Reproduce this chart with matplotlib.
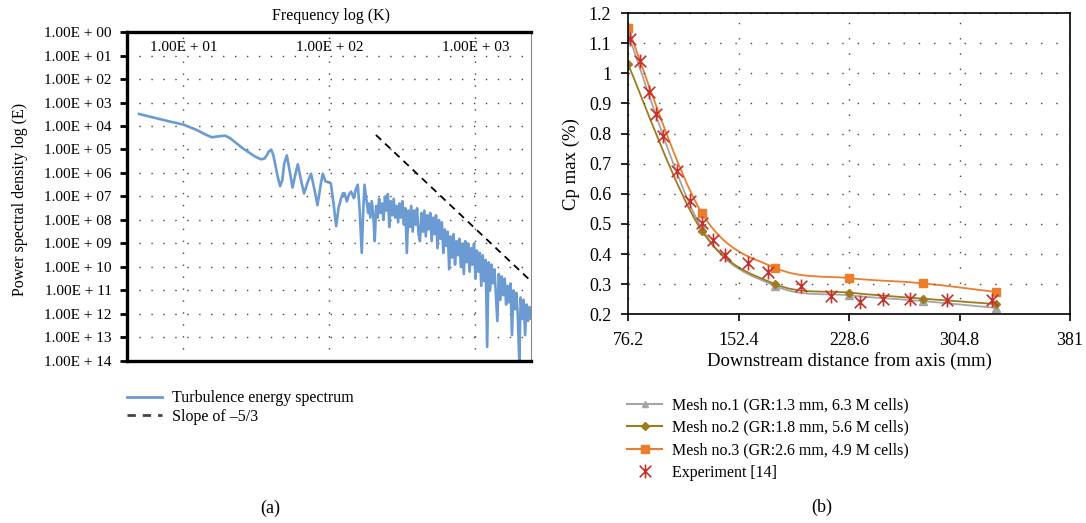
import numpy as np
import matplotlib
matplotlib.use("Agg")
import matplotlib.pyplot as plt
from matplotlib.path import Path
from matplotlib.patches import PathPatch
from matplotlib.lines import Line2D

plt.rcParams['font.family'] = ['Liberation Serif', 'DejaVu Serif']

# ---- (a) turbulence spectrum: log10 of frequency K and log exponent of E ----
spec_log_k = [
    0.696, 0.80, 0.90, 1.00, 1.091, 1.15, 1.194, 1.24, 1.285, 1.32, 1.354, 1.40,
    1.445, 1.49, 1.532, 1.555, 1.571, 1.585, 1.600, 1.614, 1.628, 1.645, 1.662,
    1.677, 1.690, 1.708, 1.727, 1.747, 1.765, 1.783, 1.805, 1.826, 1.850, 1.874,
    1.897, 1.918, 1.940, 1.954, 1.973, 1.995, 2.010, 2.030, 2.046, 2.062, 2.080,
    2.092, 2.103, 2.119, 2.135, 2.148, 2.167, 2.180, 2.194, 2.207, 2.221, 2.232,
    2.240, 2.256, 2.265,
    2.27, 2.28, 2.29, 2.30, 2.31, 2.32, 2.33, 2.34, 2.35, 2.36, 2.37, 2.38, 2.39,
    2.40, 2.41, 2.42, 2.43, 2.44, 2.45, 2.46, 2.47, 2.48, 2.49, 2.50, 2.51, 2.52,
    2.53, 2.54, 2.55, 2.56, 2.57, 2.58, 2.59, 2.60, 2.61, 2.62, 2.63, 2.64, 2.65,
    2.66, 2.67, 2.68, 2.69, 2.70, 2.71, 2.72, 2.73, 2.74, 2.75, 2.76, 2.77, 2.78,
    2.79, 2.80, 2.81, 2.82, 2.83, 2.84, 2.85, 2.86, 2.87, 2.88, 2.89, 2.90, 2.91,
    2.92, 2.93, 2.94, 2.95, 2.96, 2.97, 2.98, 2.99, 3.00, 3.01, 3.02, 3.03, 3.04,
    3.05, 3.06, 3.07, 3.08, 3.09, 3.10, 3.11, 3.12, 3.13, 3.14, 3.15, 3.16, 3.17,
    3.18, 3.19, 3.20, 3.21, 3.22, 3.23, 3.24, 3.25, 3.26, 3.27, 3.28, 3.29, 3.30,
    3.31, 3.32, 3.33, 3.34, 3.35, 3.36, 3.37, 3.38,
]
spec_log_e = [
    3.49, 3.65, 3.80, 3.94, 4.17, 4.36, 4.48, 4.44, 4.41, 4.52, 4.69, 4.92,
    5.11, 5.30, 5.42, 5.38, 5.25, 5.08, 5.01, 5.20, 5.61, 6.15, 6.56,
    6.30, 5.60, 5.25, 5.90, 6.62, 6.10, 5.63, 6.30, 6.87, 6.40, 6.03,
    6.70, 7.37, 6.50, 6.03, 6.36, 6.40, 6.45, 7.40, 8.26, 7.50, 7.07,
    6.86, 6.86, 7.21, 6.90, 6.79, 7.07, 6.70, 6.50, 7.60, 9.40, 7.50,
    6.50, 7.29, 7.70,
    7.3, 7.9, 7.2, 7.8, 8.9, 7.4, 7.9, 7.1, 7.7, 7.3, 8.0, 7.0, 7.6,
    6.9, 8.3, 7.2, 7.8, 7.1, 7.9, 7.4, 8.1, 7.3, 7.9, 7.2, 8.2, 7.5,
    9.4, 7.6, 8.3, 7.4, 8.5, 7.6, 8.2, 7.5, 8.6, 8.9, 7.7, 8.5, 7.6,
    8.7, 7.8, 8.4, 7.7, 8.9, 7.9, 8.6, 7.8, 9.2, 8.0, 8.8, 8.1, 9.4,
    8.4, 9.1, 8.5, 10.1, 8.7, 9.6, 8.6, 9.9, 8.9, 9.5, 8.8, 10.0, 9.0,
    10.3, 8.9, 9.8, 9.0, 10.2, 9.2, 9.9, 9.0, 10.5, 9.3, 10.2, 9.4, 10.8,
    9.5, 10.6, 9.7, 13.4, 9.8, 11.0, 9.9, 10.7, 10.1, 11.2, 12.3, 10.3, 11.4,
    10.4, 11.2, 10.5, 11.6, 10.8, 11.5, 10.7, 12.9, 11.0, 11.8, 11.1, 12.1, 14.0,
    11.3, 12.2, 11.4, 12.9, 11.6, 12.3, 11.7, 12.2,
]
slope_log_k = [2.318, 3.38]
slope_log_e = [4.38, 10.60]

psd_ticks = list(range(15))
psd_tick_labels = ["1.00E + 00", "1.00E + 01", "1.00E + 02", "1.00E + 03", "1.00E + 04",
                   "1.00E + 05", "1.00E + 06", "1.00E + 07", "1.00E + 08", "1.00E + 09",
                   "1.00E + 10", "1.00E + 11", "1.00E + 12", "1.00E + 13", "1.00E + 14"]
freq_ticks = [1, 2, 3]
freq_tick_labels = ["1.00E + 01", "1.00E + 02", "1.00E + 03"]

# ---- (b) Cp max vs downstream distance ----
mesh_x = [76.2, 127.0, 177.8, 228.6, 279.4, 330.2]
mesh1_cp = [1.13, 0.485, 0.294, 0.263, 0.244, 0.221]
mesh2_cp = [1.03, 0.478, 0.300, 0.272, 0.252, 0.234]
mesh3_cp = [1.15, 0.537, 0.354, 0.320, 0.303, 0.274]
exp_x = [77.4, 84.3, 90.5, 95.4, 100.4, 109.7, 118.9, 127.0, 135.1, 143.2, 158.9,
         172.8, 195.6, 216.2, 236.4, 251.7, 270.6, 296.5, 327.5]
exp_cp = [1.114, 1.040, 0.938, 0.865, 0.791, 0.677, 0.576, 0.504, 0.446, 0.398, 0.371,
          0.340, 0.294, 0.260, 0.241, 0.251, 0.251, 0.247, 0.248]
dist_ticks = [76.2, 152.4, 228.6, 304.8, 381]
dist_tick_labels = ["76.2", "152.4", "228.6", "304.8", "381"]
cp_ticks = [0.2, 0.3, 0.4, 0.5, 0.6, 0.7, 0.8, 0.9, 1.0, 1.1, 1.2]
cp_tick_labels = ["0.2", "0.3", "0.4", "0.5", "0.6", "0.7", "0.8", "0.9", "1", "1.1", "1.2"]

BLUE = '#6b9bd2'
GRAY = '#a5a5a5'
BROWN = '#a07a1e'
ORANGE = '#ee7d2b'
RED = '#c8312b'


def smooth_path(xs, ys):
    """Excel style smoothed line as cubic Bezier segments through the points"""
    pts = np.column_stack([xs, ys]).astype(float)
    n = len(pts)
    verts = [pts[0]]
    codes = [Path.MOVETO]
    for i in range(n - 1):
        p0 = pts[i - 1] if i > 0 else pts[i]
        p1, p2 = pts[i], pts[i + 1]
        p3 = pts[i + 2] if i + 2 < n else pts[i + 1]
        verts += [p1 + (p2 - p0) / 6, p2 - (p3 - p1) / 6, p2]
        codes += [Path.CURVE4] * 3
    return Path(verts, codes)


star = Path([(-1, -1), (1, 1), (-1, 1), (1, -1), (0, -1.2), (0, 1.2)],
            [Path.MOVETO, Path.LINETO] * 3)

fig = plt.figure(figsize=(10.86, 5.23), dpi=100)

# ---------------- panel (a) ----------------
ax1 = fig.add_axes([0.1169, 0.3098, 0.3720, 0.6290])
ax1.plot(spec_log_k, spec_log_e, color=BLUE, lw=1.9)
ax1.plot(slope_log_k, slope_log_e, color='black', lw=1.3, dashes=(4, 3))
ax1.set_xlim(0.613, 3.38)
ax1.set_ylim(14, 0)
ax1.set_yticks(psd_ticks)
ax1.set_yticklabels(psd_tick_labels, fontsize=11)
ax1.xaxis.tick_top()
ax1.set_xticks(freq_ticks)
ax1.set_xticklabels(freq_tick_labels, fontsize=11)
ax1.tick_params(axis='x', length=0, pad=-16)
ax1.tick_params(axis='y', length=5, width=2, direction='out', pad=6)
ax1.xaxis.set_label_position('top')
ax1.set_xlabel("Frequency log (K)", fontsize=11.5)
ax1.xaxis.set_label_coords(0.505, 1.035)
ax1.set_ylabel("Power spectral density log (E)", fontsize=11.5)
ax1.yaxis.set_label_coords(-0.245, 0.49)
ax1.grid(True, color='#444444', lw=1.0, linestyle=(0, (1, 7.6)))
for side in ['left', 'top', 'bottom']:
    ax1.spines[side].set_linewidth(2.4)
ax1.spines['right'].set_linewidth(0.8)
ax1.spines['right'].set_color('#888888')

fig.legend([Line2D([], [], color=BLUE, lw=2),
            Line2D([], [], color='#444444', lw=2, dashes=(3, 2.5))],
           ["Turbulence energy spectrum", "Slope of \u20135/3"],
           loc='upper left', bbox_to_anchor=(0.1169, 0.254), frameon=False,
           fontsize=11.5, borderpad=0, borderaxespad=0, handlelength=2.2,
           handletextpad=0.6, labelspacing=0.15)

# ---------------- panel (b) ----------------
ax2 = fig.add_axes([0.5783, 0.3990, 0.4070, 0.5761])
for ys, col, mk, ms in [(mesh1_cp, GRAY, '^', 5.5), (mesh2_cp, BROWN, 'D', 4),
                        (mesh3_cp, ORANGE, 's', 6)]:
    ax2.add_patch(PathPatch(smooth_path(mesh_x, ys), facecolor='none', edgecolor=col, lw=1.3))
    ax2.plot(mesh_x, ys, linestyle='none', marker=mk, ms=ms, color=col)
ax2.plot(exp_x, exp_cp, linestyle='none', marker=star, ms=10, mew=1.2,
         color=RED, markerfacecolor='none')
ax2.set_xlim(76.2, 381)
ax2.set_ylim(0.2, 1.2)
ax2.set_xticks(dist_ticks)
ax2.set_xticklabels(dist_tick_labels, fontsize=13)
ax2.set_yticks(cp_ticks)
ax2.set_yticklabels(cp_tick_labels, fontsize=13)
ax2.tick_params(axis='x', length=5, width=1.2, direction='out', pad=8)
ax2.tick_params(axis='y', length=5, width=1.2, direction='out', pad=7)
ax2.set_xlabel("Downstream distance from axis (mm)", fontsize=13.5)
ax2.xaxis.set_label_coords(0.5, -0.125)
ax2.set_ylabel("Cp max (%)", fontsize=13.5)
ax2.yaxis.set_label_coords(-0.109, 0.5)
ax2.grid(True, color='#444444', lw=1.0, linestyle=(0, (1, 10)))
for side in ax2.spines:
    ax2.spines[side].set_linewidth(1.2)

fig.legend([Line2D([], [], color=GRAY, lw=1.5, marker='^', ms=5),
            Line2D([], [], color=BROWN, lw=1.5, marker='D', ms=4),
            Line2D([], [], color=ORANGE, lw=1.5, marker='s', ms=6),
            Line2D([], [], color=RED, lw=0, marker=star, ms=10, mew=1.2)],
           ["Mesh no.1 (GR:1.3 mm, 6.3 M cells)", "Mesh no.2 (GR:1.8 mm, 5.6 M cells)",
            "Mesh no.3 (GR:2.6 mm, 4.9 M cells)", "Experiment [14]"],
           loc='upper left', bbox_to_anchor=(0.5773, 0.240), frameon=False,
           fontsize=11.5, borderpad=0, borderaxespad=0, handlelength=2.2,
           handletextpad=0.6, labelspacing=0.4)

fig.text(270 / 1086, 1 - 508 / 523, "(a)", ha='center', va='center', fontsize=13)
fig.text(822 / 1086, 1 - 507 / 523, "(b)", ha='center', va='center', fontsize=13)

fig.savefig("out.png", dpi=100)
